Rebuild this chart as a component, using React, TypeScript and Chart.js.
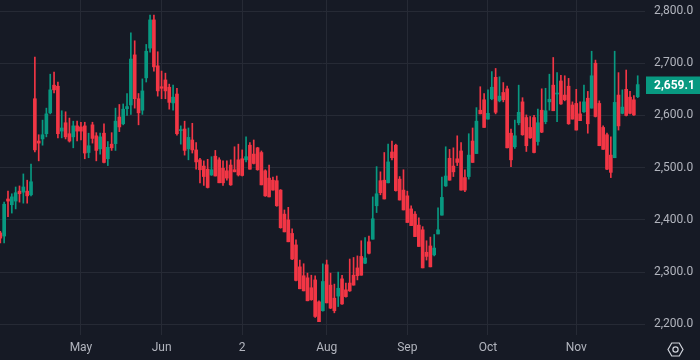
import React, { useEffect, useRef } from "react";
import { Chart, registerables } from "chart.js";

Chart.register(...registerables);

// ---- Data ----
const opens = [
  2375, 2369, 2440, 2429, 2436, 2455, 2453, 2455, 2448, 2632,
  2551, 2555, 2565, 2605, 2658, 2656, 2570, 2586, 2565, 2559,
  2580, 2578, 2580, 2529, 2582, 2561, 2536, 2566, 2517, 2545,
  2546, 2597, 2584, 2613, 2620, 2716, 2632, 2610, 2672, 2729,
  2783, 2695, 2655, 2668, 2654, 2624, 2641, 2571, 2574, 2536,
  2553, 2534, 2515, 2503, 2497, 2486, 2522, 2515, 2499, 2494,
  2505, 2496, 2515, 2517, 2515, 2543, 2526, 2538, 2529, 2494,
  2480, 2476, 2475, 2457, 2411, 2400, 2374, 2352, 2310, 2293,
  2289, 2270, 2285, 2243, 2226, 2314, 2275, 2250, 2254, 2287,
  2266, 2279, 2294, 2308, 2330, 2317, 2358, 2363, 2427, 2475,
  2476, 2471, 2530, 2543, 2478, 2457, 2446, 2421, 2411, 2390,
  2381, 2338, 2350, 2333, 2373, 2409, 2465, 2518, 2503, 2517,
  2532, 2481, 2483, 2551, 2527, 2610, 2630, 2593, 2632, 2673,
  2628, 2644, 2651, 2566, 2540, 2586, 2626, 2596, 2577, 2596,
  2550, 2610, 2588, 2626, 2658, 2641, 2666, 2639, 2656, 2620,
  2623, 2603, 2607, 2633, 2614, 2700, 2623, 2577, 2563, 2524,
  2519, 2639, 2604, 2650, 2635, 2630, 2636,
];
const highs = [
  2378, 2434, 2455, 2450, 2463, 2465, 2488, 2476, 2507, 2712,
  2563, 2591, 2614, 2679, 2683, 2664, 2609, 2607, 2595, 2589,
  2589, 2587, 2587, 2566, 2587, 2567, 2566, 2584, 2550, 2567,
  2614, 2621, 2622, 2642, 2758, 2743, 2642, 2670, 2736, 2792,
  2792, 2722, 2685, 2681, 2660, 2658, 2652, 2580, 2589, 2576,
  2585, 2548, 2518, 2513, 2516, 2521, 2533, 2519, 2513, 2513,
  2515, 2540, 2545, 2534, 2559, 2548, 2553, 2539, 2532, 2496,
  2505, 2482, 2484, 2458, 2419, 2424, 2383, 2362, 2323, 2316,
  2298, 2294, 2293, 2245, 2316, 2323, 2298, 2277, 2300, 2294,
  2279, 2325, 2328, 2331, 2360, 2366, 2369, 2444, 2502, 2492,
  2529, 2545, 2551, 2545, 2483, 2496, 2455, 2427, 2416, 2404,
  2387, 2360, 2367, 2372, 2423, 2482, 2540, 2535, 2538, 2561,
  2548, 2496, 2565, 2576, 2615, 2655, 2642, 2649, 2684, 2690,
  2674, 2663, 2656, 2574, 2591, 2658, 2634, 2601, 2598, 2600,
  2612, 2651, 2652, 2679, 2711, 2682, 2677, 2676, 2671, 2626,
  2650, 2626, 2658, 2646, 2723, 2706, 2628, 2580, 2566, 2559,
  2723, 2682, 2649, 2687, 2646, 2638, 2676,
];
const lows = [
  2356, 2356, 2406, 2413, 2421, 2434, 2432, 2432, 2446, 2530,
  2513, 2543, 2559, 2603, 2643, 2557, 2557, 2555, 2549, 2538,
  2551, 2553, 2517, 2519, 2547, 2513, 2526, 2509, 2504, 2533,
  2533, 2569, 2582, 2600, 2602, 2614, 2582, 2602, 2664, 2721,
  2685, 2637, 2632, 2632, 2612, 2610, 2562, 2545, 2524, 2515,
  2528, 2497, 2471, 2466, 2461, 2485, 2484, 2471, 2466, 2476,
  2466, 2492, 2484, 2484, 2511, 2497, 2507, 2495, 2467, 2445,
  2444, 2457, 2426, 2384, 2377, 2358, 2324, 2283, 2268, 2264,
  2245, 2246, 2213, 2205, 2225, 2241, 2230, 2222, 2234, 2238,
  2252, 2263, 2275, 2285, 2294, 2316, 2335, 2363, 2414, 2448,
  2440, 2471, 2515, 2455, 2438, 2419, 2395, 2389, 2368, 2349,
  2308, 2323, 2310, 2331, 2373, 2409, 2464, 2476, 2483, 2504,
  2457, 2454, 2478, 2510, 2527, 2603, 2577, 2593, 2630, 2603,
  2626, 2626, 2538, 2502, 2537, 2582, 2562, 2531, 2556, 2528,
  2543, 2567, 2584, 2610, 2609, 2588, 2621, 2628, 2583, 2593,
  2572, 2590, 2606, 2566, 2614, 2597, 2542, 2535, 2496, 2481,
  2519, 2572, 2603, 2599, 2603, 2600, 2634,
];
const closes = [
  2365, 2430, 2436, 2444, 2452, 2450, 2463, 2446, 2473, 2534,
  2547, 2563, 2603, 2649, 2649, 2565, 2576, 2559, 2551, 2580,
  2570, 2570, 2528, 2542, 2556, 2533, 2559, 2510, 2539, 2538,
  2589, 2578, 2612, 2617, 2708, 2632, 2605, 2647, 2723, 2783,
  2693, 2647, 2652, 2647, 2625, 2635, 2565, 2572, 2533, 2558,
  2534, 2511, 2496, 2483, 2462, 2496, 2484, 2471, 2471, 2480,
  2467, 2492, 2486, 2485, 2521, 2497, 2508, 2496, 2467, 2446,
  2444, 2457, 2427, 2385, 2377, 2358, 2325, 2284, 2268, 2264,
  2245, 2247, 2215, 2205, 2282, 2241, 2231, 2226, 2269, 2239,
  2253, 2264, 2275, 2293, 2294, 2327, 2336, 2402, 2450, 2452,
  2440, 2511, 2519, 2456, 2438, 2419, 2395, 2389, 2368, 2349,
  2308, 2330, 2310, 2346, 2381, 2443, 2484, 2476, 2492, 2510,
  2457, 2457, 2524, 2510, 2589, 2603, 2577, 2604, 2654, 2606,
  2637, 2630, 2538, 2515, 2561, 2606, 2563, 2542, 2557, 2529,
  2586, 2568, 2609, 2631, 2609, 2642, 2622, 2630, 2584, 2593,
  2572, 2590, 2626, 2584, 2676, 2598, 2542, 2535, 2497, 2491,
  2625, 2580, 2616, 2600, 2604, 2601, 2659.1,
];

const monthTickIndex = [21, 42, 63, 85, 106, 127, 150];
const monthTickLabels = ["May", "Jun", "2", "Aug", "Sep", "Oct", "Nov"];
const priceTicks = [2200, 2300, 2400, 2500, 2600, 2700, 2800];
const lastPriceText = "2,659.1";

const UP = "#089981";
const DOWN = "#F23645";
const BG = "#161A25";
const GRID = "#262A35";
const TEXT = "#B2B5BE";
const FONT = "Roboto, 'Noto Sans', sans-serif";

const fmtPrice = (v: number) =>
  v.toLocaleString("en-US", { minimumFractionDigits: 1, maximumFractionDigits: 1 });

const overlayPlugin = {
  id: "overlay",
  afterDraw(chart: any) {
    const { ctx, chartArea, scales } = chart;
    const last = closes[closes.length - 1];
    const y = scales.y.getPixelForValue(last);
    ctx.save();
    ctx.fillStyle = UP;
    ctx.fillRect(chartArea.right + 1, Math.round(y) - 8.5, 60, 17.5);
    ctx.fillStyle = "#FFFFFF";
    ctx.font = `bold 12px ${FONT}`;
    ctx.textBaseline = "middle";
    ctx.textAlign = "left";
    ctx.fillText(lastPriceText, chartArea.right + 9, Math.round(y) + 0.5);

    // settings icon (hexagon with circle)
    const cx = 675.5;
    const cy = 349.5;
    const r = 7.5;
    ctx.strokeStyle = "#D1D4DC";
    ctx.lineWidth = 1.2;
    ctx.beginPath();
    for (let k = 0; k < 6; k++) {
      const a = (Math.PI / 3) * k;
      const px = cx + r * Math.cos(a);
      const py = cy + r * Math.sin(a);
      if (k === 0) ctx.moveTo(px, py);
      else ctx.lineTo(px, py);
    }
    ctx.closePath();
    ctx.stroke();
    ctx.beginPath();
    ctx.arc(cx, cy, 2.6, 0, Math.PI * 2);
    ctx.stroke();
    ctx.restore();
  },
};

export default function App() {
  const ref = useRef<HTMLCanvasElement | null>(null);

  useEffect(() => {
    if (!ref.current) return;
    const colors = closes.map((c, i) => (c >= opens[i] ? UP : DOWN));
    const bodies = closes.map((c, i) => ({ x: i, y: [opens[i], c] }));
    const wicks = closes.map((_, i) => ({ x: i, y: [lows[i], highs[i]] }));

    const chart = new Chart(ref.current, {
      type: "bar",
      data: {
        datasets: [
          {
            data: bodies as any,
            backgroundColor: colors,
            barThickness: 3,
            minBarLength: 1,
            grouped: false,
            borderWidth: 0,
          } as any,
          {
            data: wicks as any,
            backgroundColor: colors,
            barThickness: 1,
            grouped: false,
            borderWidth: 0,
          } as any,
        ],
      },
      options: {
        animation: false,
        responsive: false,
        devicePixelRatio: 1,
        layout: { padding: 0 },
        plugins: {
          legend: { display: false },
          tooltip: { enabled: false },
        },
        scales: {
          x: {
            type: "linear",
            min: -0.08,
            max: 167.9,
            offset: false,
            border: { display: false },
            grid: { color: GRID, drawTicks: false, lineWidth: 1, offset: false },
            afterBuildTicks: (scale: any) => {
              scale.ticks = monthTickIndex.map((v) => ({ value: v }));
            },
            afterFit: (scale: any) => {
              scale.height = 25;
              scale.paddingLeft = 0;
              scale.paddingRight = 0;
            },
            ticks: {
              autoSkip: false,
              maxRotation: 0,
              padding: 6,
              color: TEXT,
              font: { family: FONT, size: 12 },
              callback: (v: any) => {
                const k = monthTickIndex.indexOf(Number(v));
                return k >= 0 ? monthTickLabels[k] : "";
              },
            },
          },
          y: {
            type: "linear",
            position: "right",
            min: 2179.5,
            max: 2821.1,
            border: { display: false },
            grid: { color: GRID, drawTicks: false, lineWidth: 1, offset: false },
            afterBuildTicks: (scale: any) => {
              scale.ticks = priceTicks.map((v) => ({ value: v }));
            },
            afterFit: (scale: any) => {
              scale.width = 55;
              scale.paddingTop = 0;
              scale.paddingBottom = 0;
            },
            ticks: {
              padding: 9,
              color: TEXT,
              font: { family: FONT, size: 12 },
              callback: (v: any) => fmtPrice(Number(v)),
            },
          },
        },
      } as any,
      plugins: [overlayPlugin],
    });
    return () => chart.destroy();
  }, []);

  return (
    <div
      style={{
        position: "fixed",
        left: 0,
        top: 0,
        width: 700,
        height: 360,
        background: BG,
      }}
    >
      <canvas ref={ref} width={700} height={360} style={{ display: "block" }} />
    </div>
  );
}
